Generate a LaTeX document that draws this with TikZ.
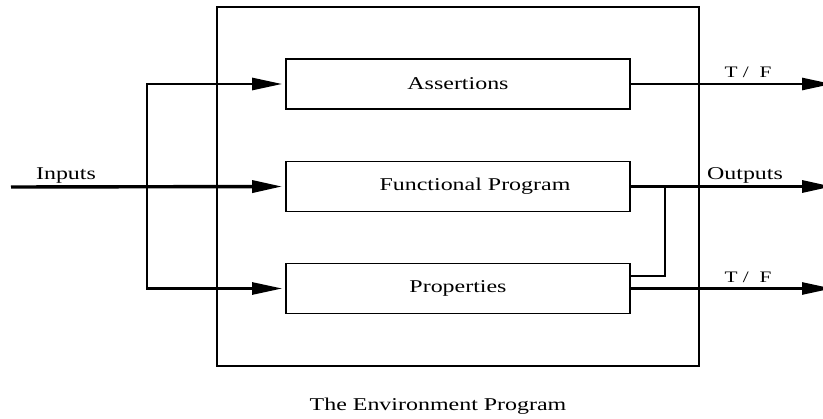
\documentclass[tikz,border=0pt]{standalone}
\usepackage{fontspec}
\usepackage{graphicx}
\setmainfont{Liberation Serif}
\usetikzlibrary{arrows.meta}

% wide serif lettering used throughout
\newcommand{\widetext}[1]{\scalebox{1.33}[1]{#1}}

\begin{document}
\begin{tikzpicture}[x=1pt,y=-1pt,
  lbl/.style={font=\fontsize{18}{20}\selectfont, inner sep=0pt, anchor=base},
  blockbox/.style={draw, line width=1.6pt, minimum width=344pt, minimum height=50pt,
    inner sep=0pt, font=\fontsize{18}{20}\selectfont},
  envbox/.style={draw, line width=1.6pt, minimum width=482pt, minimum height=359pt, inner sep=0pt},
  wire/.style={line width=2.6pt},
  flow/.style={wire, -{Triangle[length=30pt,width=12pt]}},
  feed/.style={line width=1.8pt}
]
\useasboundingbox (0,0) rectangle (823,419);

% enclosing environment
\node[envbox] (env) at (458,186.5) {};

% inner blocks
\node[blockbox] (assert) at (458,84)    {\widetext{Assertions}\hspace{10pt}};
\node[blockbox] (func)   at (458,186.5) {\hspace{34pt}\widetext{Functional Program}};
\node[blockbox] (props)  at (458,288.5) {\widetext{Properties}\hspace{12pt}};

% input side
\coordinate (in)    at (11,187);
\coordinate (split) at (147,187);
\draw[flow, line width=3.4pt, shorten >=3pt] (in) -- (func.west);
\draw[flow, shorten >=3pt] (split) |- (assert.west);
\draw[flow, shorten >=3pt] (split) |- (props.west);

% output side
\coordinate (tfA) at (832,84);
\coordinate (out) at (832,186.5);
\coordinate (tfB) at (832,288.5);
\draw[flow] (assert.east) -- (tfA);
\draw[flow, line width=3.2pt] (func.east) -- (out);
\draw[flow] (props.east) -- (tfB);

% program output fed back into the properties block
\coordinate (fb) at (665,276);
\draw[feed] (func.east) -| (fb) -- (fb -| props.east);

% labels
\node[lbl] (linputs) at (66,180)  {\widetext{Inputs}};
\node[lbl, font=\fontsize{16}{18}\selectfont] (ltfA) at (748,78)  {\widetext{T /\ \ F}};
\node[lbl] (lout)    at (745,180) {\widetext{Outputs}};
\node[lbl, font=\fontsize{16}{18}\selectfont] (ltfB) at (748,283) {\widetext{T /\ \ F}};
\node[lbl] (caption) at (438,411) {\widetext{The Environment Program}};
\end{tikzpicture}
\end{document}
